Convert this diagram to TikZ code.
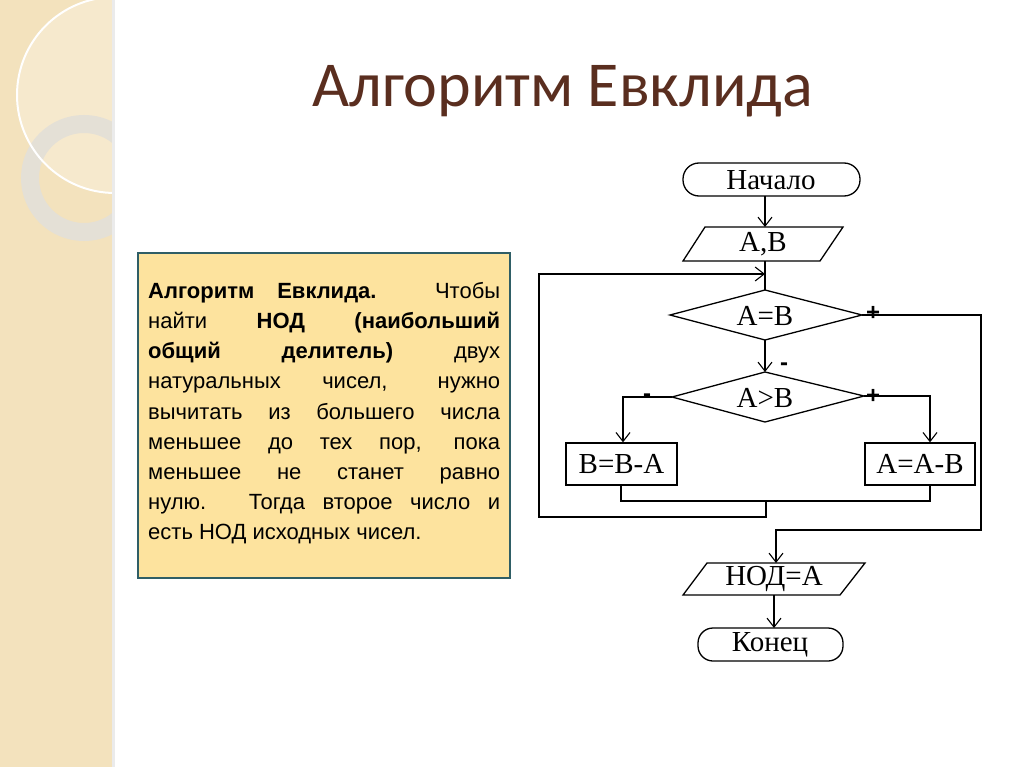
\documentclass[tikz,border=0pt]{standalone}
\usepackage{fontspec}
\setmainfont{Liberation Serif}
\newfontfamily\titlefont{Carlito}
\newfontfamily\arialf{Liberation Sans}
\usetikzlibrary{arrows.meta}
\definecolor{strip}{HTML}{F3E2BD}
\definecolor{ring}{HTML}{E4E0D6}
\definecolor{titlec}{HTML}{5A2E1F}
\definecolor{boxfill}{HTML}{FDE39E}
\definecolor{boxline}{HTML}{2F5E66}
\tikzset{
  fc/.style={line width=1.3pt,black},
  arr/.style={fc,-{Straight Barb[length=9pt,width=14pt,line width=1.1pt]}},
  lab/.style={font=\fontsize{29}{30}\selectfont,inner sep=0pt},
  sgn/.style={font=\arialf\bfseries\fontsize{24}{24}\selectfont,inner sep=0pt}
}
\begin{document}
\begin{tikzpicture}[x=1pt,y=-1pt]
\useasboundingbox (0,0) rectangle (1024,767);
\fill[white] (0,0) rectangle (1024,767);
% left strip
\fill[strip] (0,0) rectangle (112,767);
\begin{scope}
\clip (0,0) rectangle (112,767);
\fill[white,opacity=0.25] (115,95) circle (98);
\draw[ring,line width=18pt] (84,178) circle (54);
\draw[white,line width=2pt] (115,95) circle (98);
\end{scope}
\fill[black!8] (112,0) rectangle (115,767);
% title
\node[titlec,font=\titlefont\fontsize{64}{70}\selectfont] (title) at (563,91) {Алгоритм Евклида};
% text box
\node[draw=boxline,line width=2pt,fill=boxfill,minimum width=372pt,minimum height=325pt,inner sep=0pt] (box) at (324,415.5) {};
\node[anchor=north west,text width=352pt,align=justify,inner sep=0pt,
  font=\arialf\fontsize{22}{30.2}\selectfont] (txt) at (148,282)
 {\textbf{Алгоритм Евклида.} Чтобы\linebreak
 найти \textbf{НОД (наибольший}\linebreak
 \textbf{общий делитель)} двух\linebreak
 натуральных чисел, нужно\linebreak
 вычитать из большего числа\linebreak
 меньшее до тех пор, пока\linebreak
 меньшее не станет равно\linebreak
 нулю. Тогда второе число и\linebreak
 есть НОД исходных чисел.};
% flowchart shapes
\draw[fc,rounded corners=16pt] (683,163) rectangle (860,196);
\node[lab] (start) at (771,180) {Начало};
\coordinate (startb) at (765,196);
\draw[fc] (705,227) -- (843,227) -- (820,261) -- (683,261) -- cycle;
\node[lab] (inp) at (763,244) {A,B};
\coordinate (inpt) at (765,227);
\coordinate (inpb) at (765,261);
\coordinate (join) at (765,274);
\draw[fc] (670,315) -- (765,290) -- (862,315) -- (765,340) -- cycle;
\node[lab] (d1) at (765,316) {A=B};
\coordinate (d1t) at (765,290); \coordinate (d1b) at (765,340);
\coordinate (d1r) at (862,315);
\draw[fc] (672,397) -- (765,372) -- (864,396) -- (765,422) -- cycle;
\node[lab] (d2) at (765,398) {A>B};
\coordinate (d2t) at (765,372); \coordinate (d2l) at (672,397); \coordinate (d2r) at (864,396);
\node[draw,fc,minimum width=111pt,minimum height=42pt,inner sep=0pt] (bb) at (621.5,464) {};
\node[lab] (bbt) at (621.5,464) {B=B-A};
\node[draw,fc,minimum width=110pt,minimum height=42pt,inner sep=0pt] (aa) at (920,464) {};
\node[lab] (aat) at (920,464) {A=A-B};
\draw[fc] (707,563) -- (865,563) -- (840,595) -- (683,595) -- cycle;
\node[lab] (out) at (774,579) {НОД=A};
\coordinate (outt) at (776,563); \coordinate (outb) at (774,595);
\draw[fc,rounded corners=15pt] (698,628) rectangle (843,661);
\node[lab] (fin) at (770,645) {Конец};
\coordinate (fint) at (774,628);
% connectors
\draw[arr] (startb) -- (inpt);
\draw[fc] (inpb) -- (d1t);
\draw[arr] (d1b) -- (d2t);
\draw[arr] (d2l) -- (623,397) -- (bb.north -| 623,0);
\draw[arr] (d2r) -- (930,396) -- (aa.north -| 930,0);
\draw[fc] (bb.south -| 621,0) -- (621,501) -- (930,501) -- (aa.south -| 930,0);
\coordinate (mj) at (766,501);
\draw[arr] (mj) -- (766,517) -- (539,517) -- (539,274) -- (join);
\draw[arr] (d1r) -- (981,315) -- (981,530) -- (776,530) -- (outt);
\draw[arr] (outb) -- (fint);
% signs
\node[sgn] (s1) at (873,313) {+};
\node[sgn] (s2) at (784,367) {-};
\node[sgn] (s3) at (647,398) {-};
\node[sgn] (s4) at (873,396) {+};
\end{tikzpicture}
\end{document}
